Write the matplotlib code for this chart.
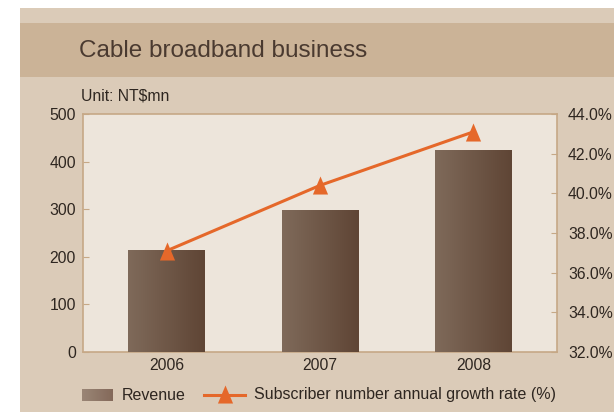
import numpy as np
import matplotlib.pyplot as plt
from matplotlib.patches import Rectangle
from matplotlib.lines import Line2D
from matplotlib.path import Path
from matplotlib.colors import LinearSegmentedColormap

plt.rcParams['font.family'] = ['Liberation Sans', 'DejaVu Sans']

years = ['2006', '2007', '2008']
revenue = [214, 299, 424]
growth = [37.1, 40.4, 43.1]
left_ticks = [0, 100, 200, 300, 400, 500]
right_ticks = [32, 34, 36, 38, 40, 42, 44]

W, H = 614, 412
fig = plt.figure(figsize=(W / 100, H / 100), dpi=100)
fig.patch.set_facecolor('white')

txt_c = '#2e2620'
line_c = '#e5682a'
spine_c = '#c6a886'
# tall triangle marker
tri = Path([(-0.42, -0.5), (0.42, -0.5), (0, 0.5), (-0.42, -0.5)],
           [Path.MOVETO, Path.LINETO, Path.LINETO, Path.CLOSEPOLY])

# page background + title band
fig.patches.append(Rectangle((20 / W, 0), 1, 1 - 8 / H, transform=fig.transFigure,
                             facecolor='#dbcbb8', edgecolor='none', zorder=-10))
fig.patches.append(Rectangle((20 / W, 1 - 77 / H), 1, 54 / H, transform=fig.transFigure,
                             facecolor='#cbb397', edgecolor='none', zorder=-9))
fig.text(79 / W, 1 - 51 / H, 'Cable broadband business', fontsize=17.5,
         color='#4a3a30', va='center', ha='left')
fig.text(81 / W, 1 - 96 / H, 'Unit: NT$mn', fontsize=11.3, color=txt_c,
         va='center', ha='left')

ax = fig.add_axes([83 / W, 1 - 352 / H, (557 - 83) / W, (352 - 114) / H])
ax.set_facecolor('#ede5db')
x = np.arange(len(years))
bars = ax.bar(x, revenue, width=0.5, color='#6f5646', zorder=2)

# horizontal gradient on each bar
cmap = LinearSegmentedColormap.from_list('brown', ['#7f6a5a', '#5f4535'])
grad = np.linspace(0, 1, 256).reshape(1, -1)
for b in bars:
    x0, w, h = b.get_x(), b.get_width(), b.get_height()
    im = ax.imshow(grad, cmap=cmap, aspect='auto', extent=[x0, x0 + w, 0, h],
                   zorder=3, interpolation='bicubic')
    im.set_clip_path(b)

ax.set_xlim(-0.545, 2.545)
ax.set_ylim(0, 500)
ax.set_yticks(left_ticks)
ax.set_xticks(x)
ax.set_xticklabels(years)
for s in ax.spines.values():
    s.set_color(spine_c)
    s.set_linewidth(1.2)
ax.tick_params(axis='y', direction='in', length=4, color=spine_c, labelsize=11.3,
               labelcolor=txt_c, pad=5)
ax.tick_params(axis='x', length=0, labelsize=11.3, labelcolor=txt_c, pad=4)

ax2 = ax.twinx()
ax2.plot(x, growth, color=line_c, lw=2.2, marker=tri, markersize=13,
         markeredgewidth=0, zorder=5)
ax2.set_ylim(32, 44)
ax2.set_yticks(right_ticks)
ax2.set_yticklabels(['%.1f%%' % v for v in right_ticks])
for s in ax2.spines.values():
    s.set_visible(False)
ax2.tick_params(axis='y', direction='in', length=4, color=spine_c, labelsize=11.3,
                labelcolor=txt_c, pad=8)
ax2.set_xlim(-0.545, 2.545)

# legend drawn by hand (different handle widths)
ly = 1 - 395 / H
lg = fig.add_axes([82 / W, ly - 6 / H, 31 / W, 12 / H])
lg.imshow(np.linspace(0, 1, 64).reshape(1, -1), aspect='auto',
          cmap=LinearSegmentedColormap.from_list('lg', ['#9a8676', '#84695a']))
lg.axis('off')
fig.text(122 / W, ly, 'Revenue', fontsize=11.5, color=txt_c, va='center', ha='left')
fig.lines.append(Line2D([204 / W, 245 / W], [ly, ly], transform=fig.transFigure,
                        color=line_c, lw=2.2))
fig.lines.append(Line2D([224.5 / W], [ly + 1 / H], transform=fig.transFigure,
                        color=line_c, marker=tri, markersize=13, markeredgewidth=0,
                        linestyle='none'))
fig.text(254 / W, ly, 'Subscriber number annual growth rate (%)', fontsize=11.5,
         color=txt_c, va='center', ha='left')

fig.savefig('out.png', dpi=100)
